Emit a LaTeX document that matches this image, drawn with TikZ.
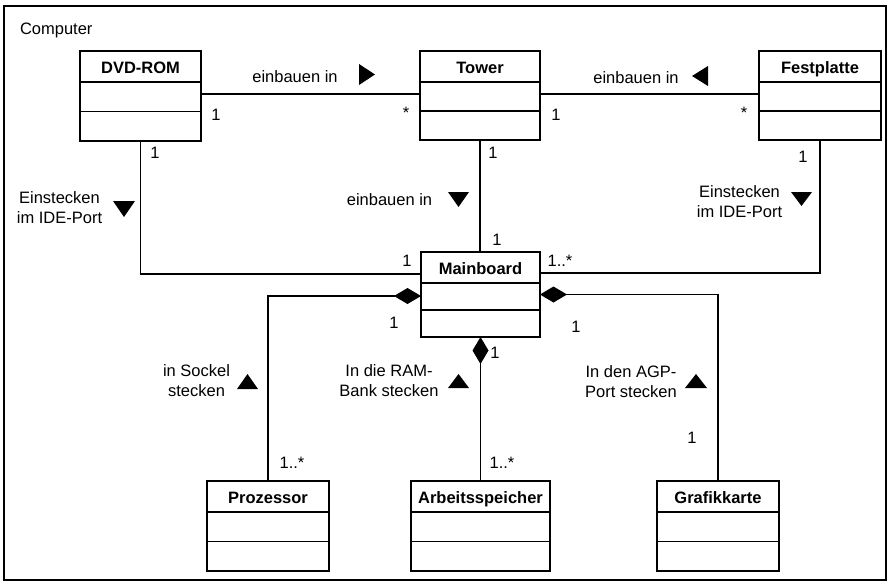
\documentclass[tikz,border=0pt]{standalone}
\usepackage{fontspec}
\setmainfont{Liberation Sans}
\usetikzlibrary{arrows.meta}

% UML class box: name, left, top, right, bottom, title (coordinates in px, y downwards)
\newcommand\umlclass[6]{%
  \node[classbox, minimum width={#4-#2}, minimum height={#5-#3}] (#1) at ({(#2+#4)/2},{(#3+#5)/2}) {};
  \node[classtitle, anchor=base] (#1-title) at ([yshift=-22.5pt]#1.north) {#6};
  \draw[divider] ([yshift=-31pt]#1.north west) -- ([yshift=-31pt]#1.north east);
  \draw[divider] ([yshift={-(31+(#5-#3-31)/2)}]#1.north west) -- ([yshift={-(31+(#5-#3-31)/2)}]#1.north east);
}

\begin{document}
\begin{tikzpicture}[x=1pt,y=-1pt,
  every node/.style={font=\fontsize{16.5}{20}\selectfont, inner sep=0pt, outer sep=0pt},
  classbox/.style={draw, line width=1.6pt, rectangle},
  classtitle/.style={font=\fontsize{16.5}{20}\selectfont\bfseries},
  divider/.style={line width=1.6pt},
  assoc/.style={line width=1.5pt},
  comp/.style={line width=1.5pt, -{Diamond[length=27pt,width=16pt]}},
  assoclabel/.style={align=center},
  multlabel/.style={},
  dirmark/.style={fill=black},
]
\useasboundingbox (0,0) rectangle (891,584);

% package frame
\node[draw, line width=1.6pt, minimum width=882, minimum height=574] (frame) at (445,293) {};
\node[anchor=west] (frame-name) at (20,30) {Computer};

% classes
\umlclass{dvd}{80}{51}{201}{141}{DVD-ROM}
\umlclass{tower}{420}{51}{540}{140}{Tower}
\umlclass{fest}{759}{51}{881}{140}{Festplatte}
\umlclass{main}{421}{252}{540}{337}{Mainboard}
\umlclass{proz}{207}{481}{329}{571}{Prozessor}
\umlclass{ram}{411}{481}{550}{571}{Arbeitsspeicher}
\umlclass{grafik}{657}{481}{779}{571}{Grafikkarte}

% associations
\draw[assoc] ([yshift=2pt]dvd.east) -- ([yshift=2pt]dvd.east -| tower.west);
\draw[assoc] ([yshift=1.5pt]tower.east) -- ([yshift=1.5pt]tower.east -| fest.west);
\draw[assoc] (dvd.south) |- ([yshift=20.5pt]main.west);
\draw[assoc] (tower.south) -- (tower.south |- main.north);
\draw[assoc] (fest.south) |- ([yshift=21.5pt]main.east);

% compositions
\draw[comp] (proz.north) |- ([yshift=-1.5pt]main.west);
\draw[comp] (ram.north) -- (ram.north |- main.south);
\draw[comp] (grafik.north) |- (main.east);

% association names
\node[assoclabel] (l-dvd-tower) at (295,77) {einbauen in};
\node[assoclabel] (l-fest-tower) at (636,78) {einbauen in};
\node[assoclabel] (l-tower-main) at (389.5,200) {einbauen in};
\node[assoclabel] (l-dvd-main) at (59.5,208) {Einstecken\\im IDE-Port};
\node[assoclabel] (l-fest-main) at (739.5,202) {Einstecken\\im IDE-Port};
\node[assoclabel] (l-proz) at (196.5,381) {in Sockel\\stecken};
\node[assoclabel] (l-ram) at (389,381) {In die RAM-\\Bank stecken};
\node[assoclabel] (l-grafik) at (631,381.5) {In den AGP-\\Port stecken};

% reading direction markers
\fill[dirmark] (359,64) -- (375,74.5) -- (359,85) -- cycle;
\fill[dirmark] (708,66) -- (692,76) -- (708,86) -- cycle;
\fill[dirmark] (113,201) -- (135,201) -- (124,217) -- cycle;
\fill[dirmark] (448,192) -- (469,192) -- (458.5,207) -- cycle;
\fill[dirmark] (791,192) -- (812,192) -- (801.5,206) -- cycle;
\fill[dirmark] (237,389) -- (258,389) -- (247.5,374) -- cycle;
\fill[dirmark] (448,388) -- (469,388) -- (458.5,374) -- cycle;
\fill[dirmark] (685,388) -- (707,388) -- (696,374) -- cycle;

% multiplicities
\node[multlabel] (m1) at (216,115) {1};
\node[multlabel] (m2) at (406,113) {*};
\node[multlabel] (m3) at (556,115) {1};
\node[multlabel] (m4) at (744,113) {*};
\node[multlabel] (m5) at (155,153) {1};
\node[multlabel] (m6) at (493,153) {1};
\node[multlabel] (m7) at (803,157) {1};
\node[multlabel] (m8) at (407,261) {1};
\node[multlabel] (m9) at (497,240) {1};
\node[multlabel] (m10) at (560,261) {1..*};
\node[multlabel] (m11) at (394,323) {1};
\node[multlabel] (m12) at (495,353) {1};
\node[multlabel] (m13) at (576,327) {1};
\node[multlabel] (m14) at (292,463) {1..*};
\node[multlabel] (m15) at (502,463) {1..*};
\node[multlabel] (m16) at (692,438) {1};
\end{tikzpicture}
\end{document}
